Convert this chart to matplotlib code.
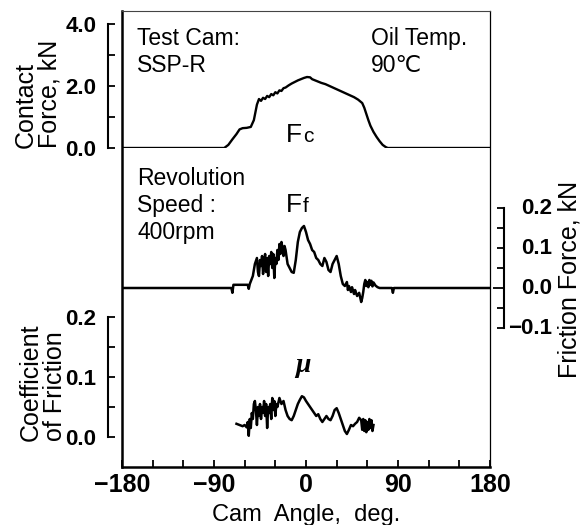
import matplotlib
matplotlib.use('Agg')
import matplotlib.pyplot as plt
import matplotlib.transforms as mtransforms
from matplotlib.font_manager import FontProperties

# ---------------- data ----------------
fc_angle = [-180, -80, -76, -72, -68, -65, -62, -58, -54, -51, -48, -46, -44, -42, -40,
            -38, -36, -34, -32, -30, -28, -26, -24, -22, -20, -17, -14, -11, -8, -5,
            -2, 1, 4, 6, 9, 12, 15, 19, 23, 27, 31, 35, 39, 43, 47, 51, 55, 57, 59,
            61, 63, 66, 69, 72, 75, 78, 80, 180]
fc_value = [0, 0, 0.10, 0.28, 0.45, 0.60, 0.64, 0.65, 0.68, 0.90, 1.40, 1.58, 1.52, 1.62, 1.58,
            1.68, 1.64, 1.74, 1.70, 1.80, 1.76, 1.86, 1.84, 1.93, 1.95, 2.02, 2.08, 2.13, 2.18, 2.22,
            2.26, 2.29, 2.28, 2.22, 2.18, 2.14, 2.10, 2.06, 2.00, 1.94, 1.88, 1.82, 1.76, 1.70, 1.64,
            1.56, 1.45, 1.30, 1.10, 0.90, 0.72, 0.52, 0.36, 0.22, 0.10, 0.03, 0, 0]

ff_angle = [-180, -73, -72, -71, -57, -56, -55, -52, -50, -48, -47, -46, -45, -44, -43, -42,
            -41, -40, -39, -38, -37, -36, -35, -34, -33, -32, -31, -30, -29, -28, -27, -26,
            -25, -24, -23, -22, -21, -20, -18, -16, -14, -12, -10, -8, -6, -4, -2, 0, 2, 4,
            6, 8, 10, 12, 14, 16, 18, 20, 22, 24, 26, 28, 30, 32, 34, 36, 38, 40, 41, 42,
            44, 45, 47, 48, 50, 52, 54, 55, 56, 57, 58, 59, 60, 61, 62, 63, 64, 65, 66, 68,
            70, 72, 84, 85, 86, 180]
ff_value = [0, 0, -0.012, 0.008, 0.008, -0.002, 0.010, 0.030, 0.060, 0.075, 0.040, 0.030, 0.070,
            0.055, 0.080, 0.035, 0.065, 0.085, 0.040, 0.075, 0.030, 0.080, 0.060, 0.090, 0.050,
            0.085, 0.025, 0.075, 0.060, 0.095, 0.070, 0.110, 0.085, 0.115, 0.100, 0.080, 0.105,
            0.095, 0.060, 0.050, 0.040, 0.038, 0.070, 0.115, 0.140, 0.150, 0.155, 0.140, 0.120,
            0.110, 0.095, 0.090, 0.075, 0.070, 0.060, 0.055, 0.075, 0.065, 0.045, 0.040, 0.060,
            0.070, 0.080, 0.060, 0.030, 0.010, 0.005, 0.015, -0.005, 0.005, -0.010, 0.002, -0.015,
            -0.005, -0.020, -0.012, -0.035, -0.025, -0.010, 0.010, 0.020, 0.005, 0.015, 0.002,
            0.020, 0.008, 0.018, 0.004, 0.014, 0.006, 0.002, 0, 0, -0.012, 0, 0]

mu_angle = [-68, -65, -62, -60, -58, -57, -56, -55, -54, -53, -52, -51, -50, -49, -48, -47,
            -46, -45, -44, -43, -42, -41, -40, -39, -38, -37, -36, -35, -34, -33, -32, -31,
            -30, -29, -28, -26, -24, -22, -20, -18, -16, -14, -12, -10, -8, -6, -4, -2, 0,
            2, 4, 6, 8, 10, 12, 14, 16, 18, 20, 22, 24, 26, 28, 30, 32, 34, 36, 38, 40, 42,
            44, 46, 48, 50, 52, 54, 55, 56, 57, 58, 59, 60, 61, 62, 63, 64, 65, 66]
mu_value = [0.022, 0.020, 0.018, 0.020, 0.016, 0.025, 0.002, 0.030, 0.015, 0.040, 0.030, 0.055,
            0.060, 0.045, 0.020, 0.050, 0.035, 0.055, 0.030, 0.050, 0.040, 0.060, 0.035, 0.055,
            0.015, 0.050, 0.040, 0.055, 0.030, 0.065, 0.045, 0.060, 0.035, 0.055, 0.050, 0.065,
            0.055, 0.060, 0.045, 0.035, 0.030, 0.028, 0.035, 0.045, 0.055, 0.062, 0.068, 0.066,
            0.060, 0.055, 0.050, 0.045, 0.040, 0.035, 0.038, 0.030, 0.025, 0.030, 0.035, 0.030,
            0.028, 0.035, 0.045, 0.048, 0.040, 0.030, 0.020, 0.010, 0.005, 0.012, 0.020, 0.018,
            0.022, 0.025, 0.032, 0.028, 0.012, 0.030, 0.010, 0.028, 0.008, 0.025, 0.012, 0.030,
            0.015, 0.028, 0.010, 0.020]

x_ticks = [-180, -90, 0, 90, 180]
x_ticklabels = ['\u2212180', '\u221290', '0', '90', '180']
x_minor = [-150, -120, -60, -30, 30, 60, 120, 150]
fc_ticks = [0, 2, 4]
fc_ticklabels = ['0.0', '2.0', '4.0']
fc_minor = [1, 3]
ff_ticks = [-0.1, 0.0, 0.1, 0.2]
ff_ticklabels = ['\u22120.1', '0.0', '0.1', '0.2']
ff_minor = [-0.05, 0.05, 0.15]
mu_ticks = [0.0, 0.1, 0.2]
mu_ticklabels = ['0.0', '0.1', '0.2']
mu_minor = [0.05, 0.15]

# ---------------- figure ----------------
W, H = 581, 525
fig = plt.figure(figsize=(W / 100, H / 100), dpi=100)


def box(l, t, r, b):
    return [l / W, 1 - b / H, (r - l) / W, (b - t) / H]


def fx(px):
    return px / W


def fy(py):
    return 1 - py / H


num_fp = FontProperties(family=['Liberation Sans Narrow', 'Liberation Sans'], weight='bold', size=16)
xnum_fp = FontProperties(family=['Liberation Sans Narrow', 'Liberation Sans'], weight='bold', size=18)
txt = ['Liberation Sans', 'DejaVu Sans']

# main frame
ax = fig.add_axes(box(122, 11, 490, 467))
ax.set_xlim(-180, 180)
ax.set_ylim(0, 1)
ax.set_yticks([])
ax.set_xticks(x_ticks)
ax.set_xticks(x_minor, minor=True)
ax.set_xticklabels(x_ticklabels)
for lbl in ax.get_xticklabels():
    lbl.set_fontproperties(xnum_fp)
ax.tick_params(axis='x', which='both', direction='in', length=5, width=1.3, pad=4)
ax.spines['left'].set_linewidth(1.8)
ax.spines['bottom'].set_linewidth(1.8)
ax.spines['top'].set_linewidth(0.8)
ax.spines['top'].set_color('#444444')
ax.spines['right'].set_linewidth(0.9)


def sub_axes(rect, ylim, side):
    a = fig.add_axes(rect)
    a.set_xlim(-180, 180)
    a.set_ylim(*ylim)
    a.patch.set_visible(False)
    a.xaxis.set_visible(False)
    for s in ['top', 'bottom', 'left', 'right']:
        a.spines[s].set_visible(False)
    sp = a.spines[side]
    sp.set_visible(True)
    sp.set_position(('outward', 10))
    sp.set_bounds(*ylim)
    sp.set_linewidth(1.5)
    if side == 'right':
        a.yaxis.tick_right()
    a.tick_params(axis='y', which='both', direction='in', length=5, width=1.3, pad=8.5)
    return a


# Contact force
ax_fc = sub_axes(box(122, 24, 490, 148), (0, 4), 'left')
ax_fc.set_yticks(fc_ticks)
ax_fc.set_yticks(fc_minor, minor=True)
ax_fc.set_yticklabels(fc_ticklabels)
for lbl in ax_fc.get_yticklabels():
    lbl.set_fontproperties(num_fp)
ax_fc.plot(fc_angle, fc_value, color='black', lw=1.7)

# Friction force (right axis)
ax_ff = sub_axes(box(122, 208, 490, 328), (-0.1, 0.2), 'right')
ax_ff.set_yticks(ff_ticks)
ax_ff.set_yticks(ff_minor, minor=True)
ax_ff.set_yticklabels([])
ax_ff.yaxis.get_major_ticks()[1].tick2line.set_markersize(8)
ax_ff.plot(ff_angle, ff_value, color='black', lw=1.8)
tr = mtransforms.blended_transform_factory(fig.transFigure, ax_ff.transData)
for v, s in zip(ff_ticks, ff_ticklabels):
    ax_ff.text(fx(552), v, s, transform=tr, ha='right', va='center', fontproperties=num_fp)

# Coefficient of friction
ax_mu = sub_axes(box(122, 317, 490, 437), (0, 0.2), 'left')
ax_mu.set_yticks(mu_ticks)
ax_mu.set_yticks(mu_minor, minor=True)
ax_mu.set_yticklabels(mu_ticklabels)
for lbl in ax_mu.get_yticklabels():
    lbl.set_fontproperties(num_fp)
ax_mu.plot(mu_angle, mu_value, color='black', lw=1.8)

# ---------------- texts ----------------
fs = 16.5
fig.text(fx(137), fy(45), 'Test Cam:', family=txt, size=fs, va='baseline')
fig.text(fx(137), fy(72), 'SSP-R', family=txt, size=fs, va='baseline')
fig.text(fx(371), fy(45), 'Oil Temp.', family=txt, size=fs, va='baseline')
fig.text(fx(371), fy(72), '90\u2103', family=txt, size=fs, va='baseline')
fig.text(fx(137), fy(185), 'Revolution', family=txt, size=fs, va='baseline')
fig.text(fx(137), fy(212), 'Speed :', family=txt, size=fs, va='baseline')
fig.text(fx(137), fy(239), '400rpm', family=txt, size=fs, va='baseline')

fig.text(fx(286), fy(142), 'F', family=txt, size=19, va='baseline')
fig.text(fx(303), fy(142), 'c', family=txt, size=15, va='baseline')
fig.text(fx(286), fy(212), 'F', family=txt, size=19, va='baseline')
fig.text(fx(303), fy(212), 'f', family=txt, size=15, va='baseline')
fig.text(fx(295), fy(372), '\u03bc', family=['Liberation Serif', 'DejaVu Serif'], style='italic',
         weight='bold', size=20, va='baseline')

lab = 18
rot = dict(family=txt, size=lab, rotation=90, rotation_mode='anchor', ha='left', va='baseline')
fig.text(fx(33), fy(148), 'Contact', **rot)
fig.text(fx(56), fy(148), 'Force, kN', **rot)
fig.text(fx(38), fy(441), 'Coefficient', **rot)
fig.text(fx(62), fy(441), 'of Friction', **rot)
fig.text(fx(576), fy(378), 'Friction Force, kN', **rot)

fig.text(fx(306), fy(521), 'Cam  Angle,  deg.', family=txt, size=17, ha='center', va='baseline')

fig.savefig('out.png', dpi=100)
